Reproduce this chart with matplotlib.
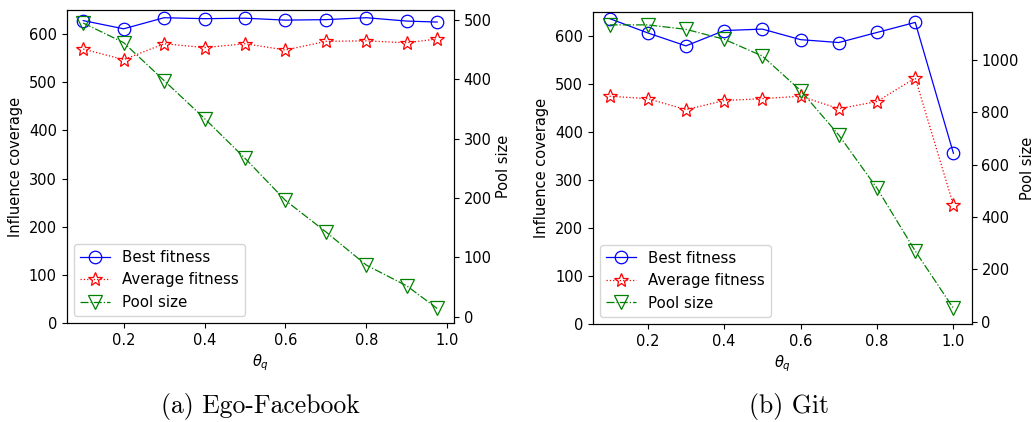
import matplotlib
matplotlib.use("Agg")
import matplotlib.pyplot as plt

theta_a = [0.1, 0.2, 0.3, 0.4, 0.5, 0.6, 0.7, 0.8, 0.9, 0.975]
best_a = [628, 611, 634, 632, 633, 629, 630, 634, 627, 625]
avg_a = [569, 547, 580, 572, 580, 567, 585, 586, 582, 590]
pool_a = [495, 462, 398, 334, 267, 196, 143, 87, 52, 14]

theta_b = [0.1, 0.2, 0.3, 0.4, 0.5, 0.6, 0.7, 0.8, 0.9, 1.0]
best_b = [637, 607, 580, 612, 615, 593, 587, 608, 629, 356]
avg_b = [475, 470, 447, 466, 470, 475, 449, 464, 513, 248]
pool_b = [1134, 1134, 1117, 1079, 1015, 883, 713, 510, 270, 51]

captions = ["(a) Ego-Facebook", "(b) Git"]

plt.rcParams['font.family'] = ['DejaVu Sans']
plt.rcParams['font.size'] = 10.5

fig = plt.figure(figsize=(10.35, 4.22), dpi=100)

specs = [
    dict(rect=[0.0644, 0.2339, 0.3742, 0.7424], x=theta_a, best=best_a, avg=avg_a, pool=pool_a,
         xlim=(0.059, 1.0165), ylim2=(-11, 517), ticks2=[0, 100, 200, 300, 400, 500], capx=0.252,
         pad2=3),
    dict(rect=[0.5727, 0.2322, 0.3662, 0.7386], x=theta_b, best=best_b, avg=avg_b, pool=pool_b,
         xlim=(0.056, 1.048), ylim2=(-9, 1182), ticks2=[0, 200, 400, 600, 800, 1000], capx=0.762,
         pad2=1),
]

ms = 9
for i, s in enumerate(specs):
    ax = fig.add_axes(s['rect'])
    l1, = ax.plot(s['x'], s['best'], color='b', ls='-', lw=0.9, marker='o', ms=ms,
                  mfc='none', mec='b', mew=0.9, label='Best fitness')
    l2, = ax.plot(s['x'], s['avg'], color='r', ls=':', lw=0.9, marker='*', ms=ms + 1,
                  mfc='none', mec='r', mew=0.9, label='Average fitness')
    ax.set_ylim(0, 650)
    ax.set_xlim(*s['xlim'])
    ax.set_yticks([0, 100, 200, 300, 400, 500, 600])
    ax.set_xticks([0.2, 0.4, 0.6, 0.8, 1.0])
    ax.set_ylabel('Influence coverage')
    ax.set_xlabel(r'$\theta_q$', labelpad=3)
    ax2 = ax.twinx()
    l3, = ax2.plot(s['x'], s['pool'], color='g', ls='-.', lw=0.9, marker='v', ms=ms + 1,
                   mfc='none', mec='g', mew=0.9, label='Pool size')
    ax2.set_ylim(*s['ylim2'])
    ax2.set_yticks(s['ticks2'])
    ax2.set_ylabel('Pool size', labelpad=s['pad2'])
    ax2.legend(handles=[l1, l2, l3], loc='lower left', fontsize=10.8)
    fig.text(s['capx'], 0.036, captions[i], family='cmr10', fontsize=18.5,
             ha='center', va='center')

fig.savefig('out.png', dpi=100)
